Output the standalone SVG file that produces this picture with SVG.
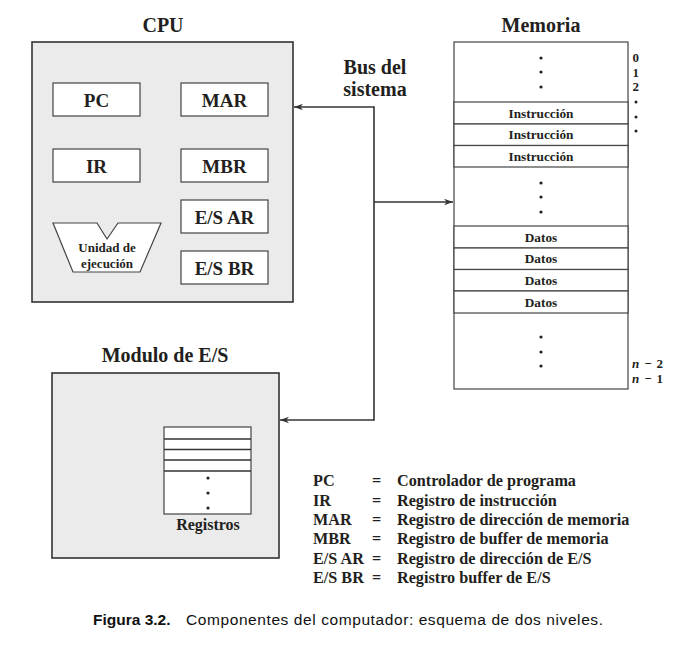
<svg xmlns="http://www.w3.org/2000/svg" width="675" height="651" viewBox="0 0 675 651">
<style>
.t{font-family:"Liberation Serif","Times New Roman",serif;font-weight:bold;fill:#231f20}
.box{fill:#ebebeb;stroke:#333;stroke-width:1.6}
.reg{fill:#fff;stroke:#444;stroke-width:1.2}
.cell{fill:#fff;stroke:#444;stroke-width:1.2}
.ln{fill:none;stroke:#333;stroke-width:1.6}
.dot{fill:#231f20}
.r{font-size:19px;text-anchor:middle}
.m{font-size:13.3px;text-anchor:middle}
.h{font-size:20px;text-anchor:middle}
.lg{font-size:16.2px}
</style>
<defs>
<marker id="ah" viewBox="0 0 10 10" refX="10" refY="5" markerWidth="9" markerHeight="9" markerUnits="userSpaceOnUse" orient="auto">
<path d="M0,1.5 L10,5 L0,8.5 L3,5 Z" fill="#333"/>
</marker>
</defs>
<rect width="675" height="651" fill="#fff"/>

<g id="cpu">
<text class="t h" x="163" y="32">CPU</text>
<rect class="box" x="32" y="42" width="261" height="260"/>
</g>
<g id="pc"><rect class="reg" x="53" y="83" width="87" height="33"/><text class="t r" x="96.5" y="106.5">PC</text></g>
<g id="mar"><rect class="reg" x="181" y="83" width="87" height="33"/><text class="t r" x="224.5" y="106.5">MAR</text></g>
<g id="ir"><rect class="reg" x="53" y="149" width="87" height="33"/><text class="t r" x="96.5" y="172.5">IR</text></g>
<g id="mbr"><rect class="reg" x="181" y="149" width="87" height="33"/><text class="t r" x="224.5" y="172.5">MBR</text></g>
<g id="esar"><rect class="reg" x="181" y="200" width="87" height="33"/><text class="t r" x="224.5" y="223.5">E/S AR</text></g>
<g id="esbr"><rect class="reg" x="181" y="251" width="87" height="33"/><text class="t r" x="224.5" y="274.5">E/S BR</text></g>
<g id="ue">
<path class="reg" d="M53,223 L97,223 L107,239 L118,223 L161,223 L140,272 L73,272 Z"/>
<text class="t" font-size="13" text-anchor="middle" x="107" y="252">Unidad de</text>
<text class="t" font-size="13" text-anchor="middle" x="107" y="268">ejecución</text>
</g>

<g id="memoria">
<text class="t h" x="541" y="32">Memoria</text>
<rect class="cell" x="454" y="42" width="174" height="347"/>
<rect class="cell" x="454" y="102" width="174" height="22"/>
<rect class="cell" x="454" y="124" width="174" height="21.5"/>
<rect class="cell" x="454" y="145.5" width="174" height="21.5"/>
<rect class="cell" x="454" y="226" width="174" height="22"/>
<rect class="cell" x="454" y="248" width="174" height="21.5"/>
<rect class="cell" x="454" y="269.5" width="174" height="21.5"/>
<rect class="cell" x="454" y="291" width="174" height="22"/>
<text class="t m" x="541" y="117.5">Instrucción</text>
<text class="t m" x="541" y="139">Instrucción</text>
<text class="t m" x="541" y="160.5">Instrucción</text>
<text class="t m" x="541" y="241.5">Datos</text>
<text class="t m" x="541" y="263">Datos</text>
<text class="t m" x="541" y="284.5">Datos</text>
<text class="t m" x="541" y="306.5">Datos</text>
<circle class="dot" cx="541" cy="58" r="1.6"/><circle class="dot" cx="541" cy="72" r="1.6"/><circle class="dot" cx="541" cy="87" r="1.6"/>
<circle class="dot" cx="541" cy="183" r="1.6"/><circle class="dot" cx="541" cy="197" r="1.6"/><circle class="dot" cx="541" cy="212" r="1.6"/>
<circle class="dot" cx="541" cy="337" r="1.6"/><circle class="dot" cx="541" cy="352" r="1.6"/><circle class="dot" cx="541" cy="366" r="1.6"/>
<text class="t" font-size="13" x="632.5" y="62">0</text>
<text class="t" font-size="13" x="632.5" y="77">1</text>
<text class="t" font-size="13" x="632.5" y="91">2</text>
<circle class="dot" cx="636" cy="102" r="1.5"/><circle class="dot" cx="636" cy="117" r="1.5"/><circle class="dot" cx="636" cy="131" r="1.5"/>
<text class="t" font-size="13" x="632" y="368" textLength="31" lengthAdjust="spacing"><tspan font-style="italic">n</tspan> − 2</text>
<text class="t" font-size="13" x="632" y="383" textLength="31" lengthAdjust="spacing"><tspan font-style="italic">n</tspan> − 1</text>
</g>

<g id="es">
<text class="t h" x="165" y="362">Modulo de E/S</text>
<rect class="box" x="52" y="373" width="227" height="185"/>
</g>
<g id="registros">
<rect class="cell" x="164" y="427" width="87" height="87"/>
<path class="ln" stroke-width="1.2" d="M164,439 H251 M164,449.5 H251 M164,460 H251 M164,471 H251"/>
<circle class="dot" cx="208" cy="478" r="1.6"/><circle class="dot" cx="208" cy="493" r="1.6"/><circle class="dot" cx="208" cy="508" r="1.6"/>
<text class="t" font-size="16" text-anchor="middle" x="208" y="530">Registros</text>
</g>

<g id="bus">
<text class="t h" x="375" y="74">Bus del</text>
<text class="t h" x="375" y="96">sistema</text>
</g>

<g id="connectors">
<path class="ln" d="M374,107 H294" marker-end="url(#ah)"/>
<path class="ln" d="M374,106.2 V420.8"/>
<path class="ln" d="M374,420 H280" marker-end="url(#ah)"/>
<path class="ln" d="M374,202 H453" marker-end="url(#ah)"/>
</g>

<g id="leyenda" class="t lg">
<text x="313" y="486">PC</text><text x="372" y="486">=</text><text x="397" y="486">Controlador de programa</text>
<text x="313" y="506">IR</text><text x="372" y="506">=</text><text x="397" y="506">Registro de instrucción</text>
<text x="313" y="525">MAR</text><text x="372" y="525">=</text><text x="397" y="525">Registro de dirección de memoria</text>
<text x="313" y="544">MBR</text><text x="372" y="544">=</text><text x="397" y="544">Registro de buffer de memoria</text>
<text x="313" y="564">E/S AR</text><text x="372" y="564">=</text><text x="397" y="564">Registro de dirección de E/S</text>
<text x="313" y="583">E/S BR</text><text x="372" y="583">=</text><text x="397" y="583">Registro buffer de E/S</text>
</g>

<g id="caption" font-family="'Liberation Sans',Arial,sans-serif" font-size="15.5" fill="#111">
<text x="93" y="625" font-weight="bold">Figura 3.2.</text>
<text x="186" y="625" textLength="417" lengthAdjust="spacing">Componentes del computador: esquema de dos niveles.</text>
</g>
</svg>
